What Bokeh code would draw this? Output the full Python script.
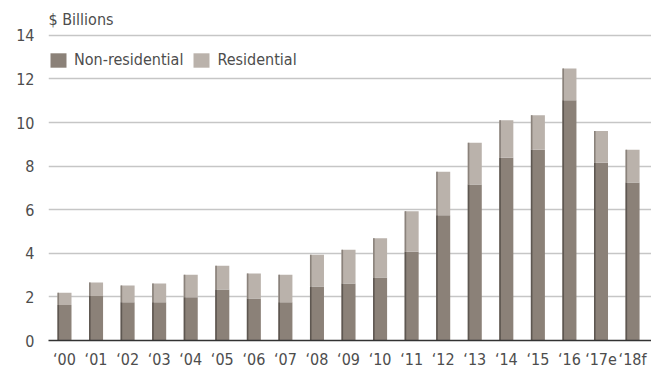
from bokeh.plotting import figure
from bokeh.models import ColumnDataSource, FixedTicker, Legend, LegendItem, Label
from bokeh.transform import dodge
from bokeh.embed import file_html
from bokeh.resources import INLINE

years = ["\u201800", "\u201801", "\u201802", "\u201803", "\u201804", "\u201805", "\u201806",
         "\u201807", "\u201808", "\u201809", "\u201810", "\u201811", "\u201812", "\u201813",
         "\u201814", "\u201815", "\u201816", "\u201817e", "\u201818f"]
non_residential = [1.63, 2.04, 1.75, 1.75, 1.98, 2.34, 1.93, 1.75, 2.48, 2.61, 2.89,
                   4.07, 5.75, 7.16, 8.39, 8.75, 11.02, 8.16, 7.25]
total = [2.19, 2.66, 2.52, 2.61, 3.02, 3.43, 3.07, 3.02, 3.93, 4.16, 4.69,
         5.93, 7.74, 9.07, 10.11, 10.34, 12.48, 9.61, 8.75]
residential = [round(t - n, 2) for t, n in zip(total, non_residential)]
y_ticks = [0, 2, 4, 6, 8, 10, 12, 14]

FONT = "DejaVu Sans Condensed"
FS = "16px"
NR_COL = "#8b8178"
RES_COL = "#bab2ab"
EDGE_NR = "#5e5751"
EDGE_RES = "#8a827b"

x = list(range(len(years)))
src = ColumnDataSource(dict(x=x, nr=non_residential, res=residential, total=total))

p = figure(width=651, height=371, output_backend="svg", toolbar_location=None,
           x_range=(-0.507, 18.6), y_range=(0, 15.6),
           min_border_left=48, min_border_right=0, min_border_top=0, min_border_bottom=28)
p.outline_line_color = None
p.background_fill_color = "white"
p.border_fill_color = "white"

BW = 0.444
rs = p.vbar_stack(["nr", "res"], x="x", width=BW, color=[NR_COL, RES_COL],
                  line_color=None, source=src)

# darker left edges
EW = 0.05
off = -BW / 2 + EW / 2
p.vbar(x=dodge("x", off), bottom=0, top="nr", width=EW, color=EDGE_NR, line_color=None, source=src)
p.vbar(x=dodge("x", off), bottom="nr", top="total", width=EW, color=EDGE_RES, line_color=None, source=src)

p.xaxis.ticker = FixedTicker(ticks=x)
p.xaxis.major_label_overrides = {i: y for i, y in enumerate(years)}
p.yaxis.ticker = FixedTicker(ticks=y_ticks)

for ax in (p.xaxis, p.yaxis):
    ax.major_tick_line_color = None
    ax.minor_tick_line_color = None
    ax.major_label_text_font = FONT
    ax.major_label_text_font_size = FS
    ax.major_label_text_color = "#4d4d4d"
p.yaxis.axis_line_color = None
p.yaxis.major_label_standoff = 8
p.xaxis.axis_line_color = "#333333"
p.xaxis.axis_line_width = 1.5
p.xaxis.major_label_standoff = 3

p.xgrid.grid_line_color = None
p.ygrid.grid_line_color = "#c6c6c6"
p.ygrid.grid_line_width = 1.6

legend = Legend(items=[LegendItem(label="Non-residential", renderers=[rs[0]]),
                       LegendItem(label="Residential", renderers=[rs[1]])],
                orientation="horizontal", location=(0, 271),
                glyph_width=20, glyph_height=18, label_text_font=FONT,
                label_text_font_size=FS, label_text_color="#4d4d4d",
                padding=0, margin=0, spacing=8, label_standoff=6,
                background_fill_alpha=0, border_line_color=None)
p.add_layout(legend)

p.add_layout(Label(x=0, y=321, x_units="screen", y_units="screen", text="$ Billions",
                   text_font=FONT, text_font_size=FS, text_color="#4d4d4d",
                   text_baseline="middle"))

open("out.html", "w").write(file_html(p, INLINE))
